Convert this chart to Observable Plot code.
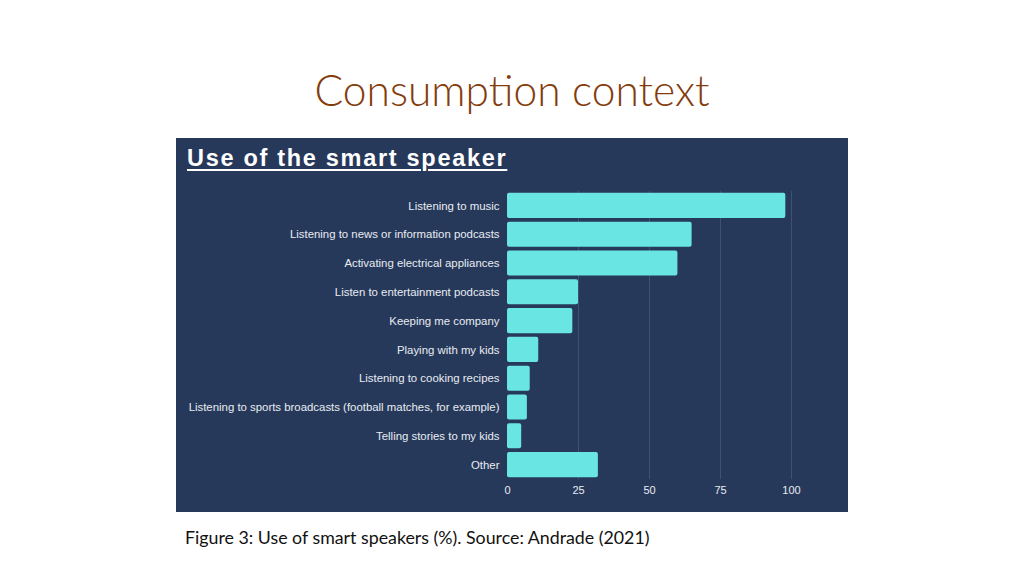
<!DOCTYPE html>
<html>
<head>
<meta charset="utf-8">
<script src="https://cdn.jsdelivr.net/npm/d3@7"></script>
<script src="https://cdn.jsdelivr.net/npm/@observablehq/plot@0.6"></script>
<style>
  html, body { margin: 0; padding: 0; background: #ffffff; }
  body { width: 1024px; height: 576px; position: relative; overflow: hidden; }
  #slide-title { position: absolute; left: 0; width: 1024px; top: 63px; text-align: center;
    font-family: Lato, "Open Sans", sans-serif; font-weight: 300; font-size: 42.5px; color: #843c0c; line-height: 54px; }
  #panel { position: absolute; left: 176px; top: 138px; width: 672px; height: 374px; background: #27395a; }
  #chart-title { position: absolute; left: 11px; top: 5px; font-family: "Liberation Sans", Arial, sans-serif;
    font-weight: bold; font-size: 23.5px; letter-spacing: 1.7px; color: #ffffff; text-decoration: underline;
    text-decoration-thickness: 2px; text-underline-offset: 3px; line-height: 30px; }
  #chart { position: absolute; left: 0; top: 42px; }
  #caption { position: absolute; left: 185px; top: 526px; font-family: Lato, "Open Sans", sans-serif;
    font-size: 17.8px; color: #111111; }
</style>
</head>
<body>
<div id="slide-title">Consumption context</div>
<div id="panel">
  <div id="chart-title">Use of the smart speaker</div>
  <div id="chart"></div>
</div>
<div id="caption">Figure 3: Use of smart speakers (%). Source: Andrade (2021)</div>
<script>
const categories = [
  "Listening to music",
  "Listening to news or information podcasts",
  "Activating electrical appliances",
  "Listen to entertainment podcasts",
  "Keeping me company",
  "Playing with my kids",
  "Listening to cooking recipes",
  "Listening to sports broadcasts (football matches, for example)",
  "Telling stories to my kids",
  "Other"
];
const values = [98, 65, 60, 25, 23, 11, 8, 7, 5, 32];
const xTicks = [0, 25, 50, 75, 100];

const data = categories.map((c, i) => ({category: c, value: values[i]}));

const plot = Plot.plot({
  width: 672,
  height: 330,
  marginTop: 11,
  marginBottom: 31,
  marginLeft: 331,
  marginRight: 57,
  style: {background: "transparent", color: "#e8ecf2", fontFamily: "'Liberation Sans', Arial, sans-serif", fontSize: "11.4px"},
  x: {domain: [0, 100], ticks: xTicks, label: null, tickSize: 0, tickPadding: 7},
  y: {domain: categories, label: null, tickSize: 0, tickPadding: 8, paddingInner: 0.13, paddingOuter: 0.065, round: false},
  marks: [
    Plot.ruleX(xTicks.slice(1), {stroke: "#3f5274", strokeOpacity: 1, strokeWidth: 1}),
    Plot.barX(data, {x: "value", y: "category", fill: "#69e5e4", rx: 2}),
    Plot.axisX({ticks: xTicks, tickSize: 0, tickPadding: 7, label: null, fill: "#e8ecf2", fontSize: 11}),
    Plot.axisY({tickSize: 0, tickPadding: 8, label: null, fill: "#e8ecf2"})
  ]
});
document.getElementById("chart").appendChild(plot);
</script>
</body>
</html>
